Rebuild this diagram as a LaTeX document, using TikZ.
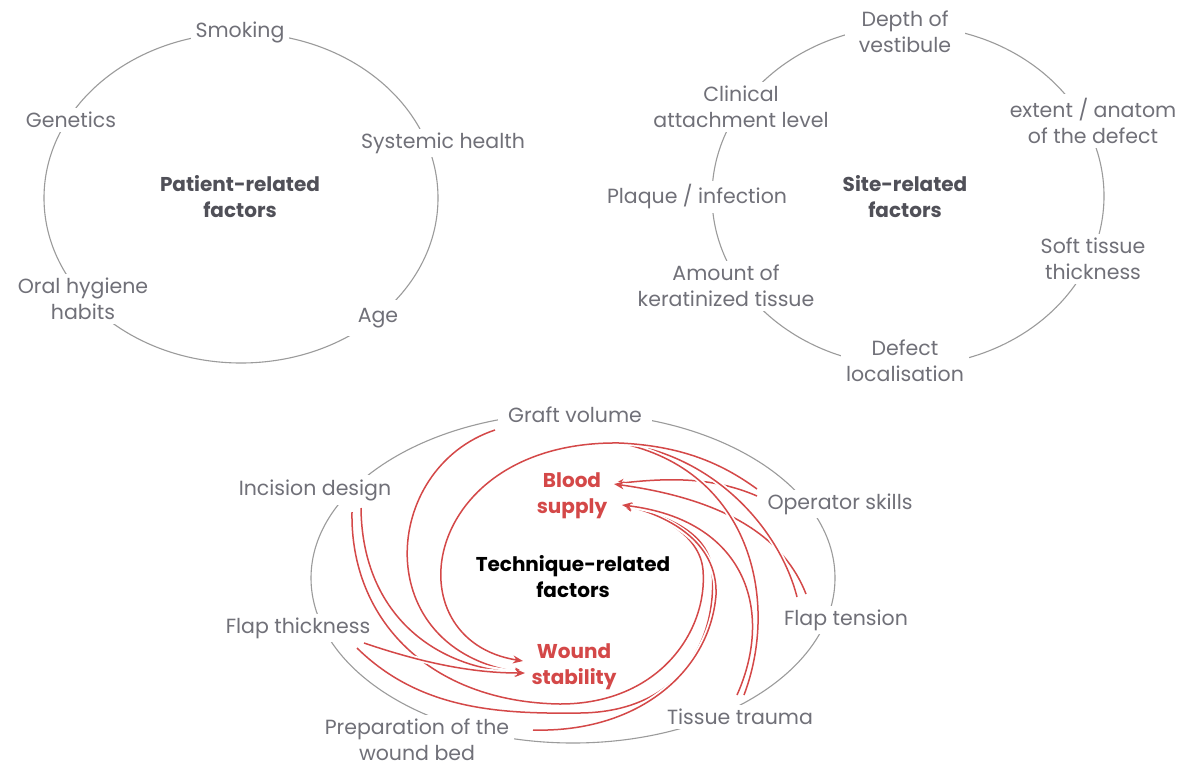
\documentclass[tikz,border=0pt]{standalone}
\usepackage{fontspec}
\setmainfont{Poppins}
\usetikzlibrary{arrows.meta}
\definecolor{lbl}{RGB}{112,112,120}
\definecolor{ring}{RGB}{155,155,155}
\definecolor{ctr}{RGB}{80,80,88}
\definecolor{rd}{RGB}{212,72,72}
\begin{document}
\begin{tikzpicture}[x=1pt,y=-1pt,
  lab/.style={font=\fontsize{20.5}{26}\selectfont, text=lbl, fill=white, align=center, inner xsep=5pt, inner ysep=4pt},
  hd/.style={font=\fontsize{20}{26}\selectfont\bfseries, align=center},
  ringline/.style={draw=ring, line width=1.1pt},
  rl/.style={draw=rd, line width=1.5pt, preaction={draw=white, line width=5pt, -}},
  ra/.style={rl, -{Stealth[length=10pt,width=8pt]}}
]
\useasboundingbox (0,0) rectangle (1188,766);
\fill[white] (0,0) rectangle (1188,766);

% ---- circles
\draw[ringline] (241,198) ellipse [x radius=197pt, y radius=165pt];
\draw[ringline] (908,196) ellipse [x radius=196pt, y radius=170pt];
\draw[ringline] (573,578) ellipse [x radius=262pt, y radius=165pt];

% ---- patient-related
\node[hd, text=ctr] (pat) at (240,197) {Patient-related\\factors};
\node[lab] (smk) at (240,32) {Smoking};
\node[lab] (gen) at (71,120) {Genetics};
\node[lab] (sys) at (443,143) {Systemic health};
\node[lab] (ohh) at (83,299) {Oral hygiene\\habits};
\node[lab, inner xsep=12pt, inner ysep=8pt] (age) at (378,318) {Age};

% ---- site-related
\node[hd, text=ctr] (site) at (905,197) {Site-related\\factors};
\node[lab, inner xsep=14pt] (dov) at (905,32) {Depth of\\vestibule};
\node[lab] (cal) at (741,107) {Clinical\\attachment level};
\node[lab] (ead) at (1093,121) {extent / anatom\\of the defect};
\node[lab] (pin) at (697,197) {Plaque / infection};
\node[lab] (stt) at (1093,259) {Soft tissue\\thickness};
\node[lab] (akt) at (726,286) {Amount of\\keratinized tissue};
\node[lab] (dlo) at (905,361) {Defect\\localisation};

% ---- technique-related
\node[hd, text=black] (tech) at (573,577) {Technique-related\\factors};
\node[hd, text=rd] (bs) at (572,496) {Blood\\supply};
\node[hd, text=rd] (ws) at (574,667) {Wound\\stability};
\node[lab, inner xsep=10pt] (gv) at (575,415) {Graft volume};
\node[lab] (idn) at (315,490) {Incision design};
\node[lab] (ops) at (840,504) {Operator skills};
\node[lab] (fth) at (298,628) {Flap thickness};
\node[lab] (ften) at (846,620) {Flap tension};
\node[lab] (pwb) at (417,740) {Preparation of the\\wound bed};
\node[lab] (ttr) at (740,717) {Tissue trauma};

% ---- connector end points
\coordinate (bs1) at (614,484);
\coordinate (bs2) at (622,505);
\coordinate (ws1) at (523,661);
\coordinate (ws2) at (525,673);
\coordinate (hub) at (620,443);
\coordinate (op1) at (757,496);
\coordinate (op2) at (757,489);
\coordinate (fts1) at (806,594);
\coordinate (fts2) at (797,597);
\coordinate (tt1) at (737,695);
\coordinate (tt2) at (744,695);
\coordinate (gvs) at (495,430);
\coordinate (id1) at (352,512);
\coordinate (id2) at (361,508);
\coordinate (ft1) at (364,643);
\coordinate (ft2) at (357,648);
\coordinate (pw) at (533,730);

% ---- red connectors
\draw[ra] (op1) .. controls (720,480) and (680,476) .. (bs1);
\draw[ra] (fts1) .. controls (785,540) and (730,500) .. (bs1);
\draw[rl] (fts2) .. controls (780,530) and (715,455) .. (hub);
\draw[rl] (tt2) .. controls (780,600) and (750,470) .. (hub);
\draw[ra] (op2) .. controls (720,462) and (680,446) .. (hub) .. controls (420,440) and (390,640) .. (ws1);
\draw[ra] (id1) .. controls (350,620) and (430,702) .. (560,704) .. controls (660,704) and (708,630) .. (703,570) .. controls (700,535) and (660,515) .. (bs2);
\draw[ra] (ft2) .. controls (420,710) and (500,714) .. (580,713) .. controls (680,712) and (718,640) .. (712,570) .. controls (709,532) and (665,515) .. (bs2);
\draw[ra] (pw) .. controls (640,733) and (710,670) .. (716,595) .. controls (718,540) and (665,515) .. (bs2);
\draw[ra] (tt1) .. controls (775,610) and (745,520) .. (bs2);
\draw[ra] (gvs) .. controls (380,468) and (368,650) .. (ws2);
\draw[ra] (id2) .. controls (362,610) and (430,668) .. (ws2);
\draw[ra] (ft1) .. controls (420,662) and (470,673) .. (ws2);
\end{tikzpicture}
\end{document}
